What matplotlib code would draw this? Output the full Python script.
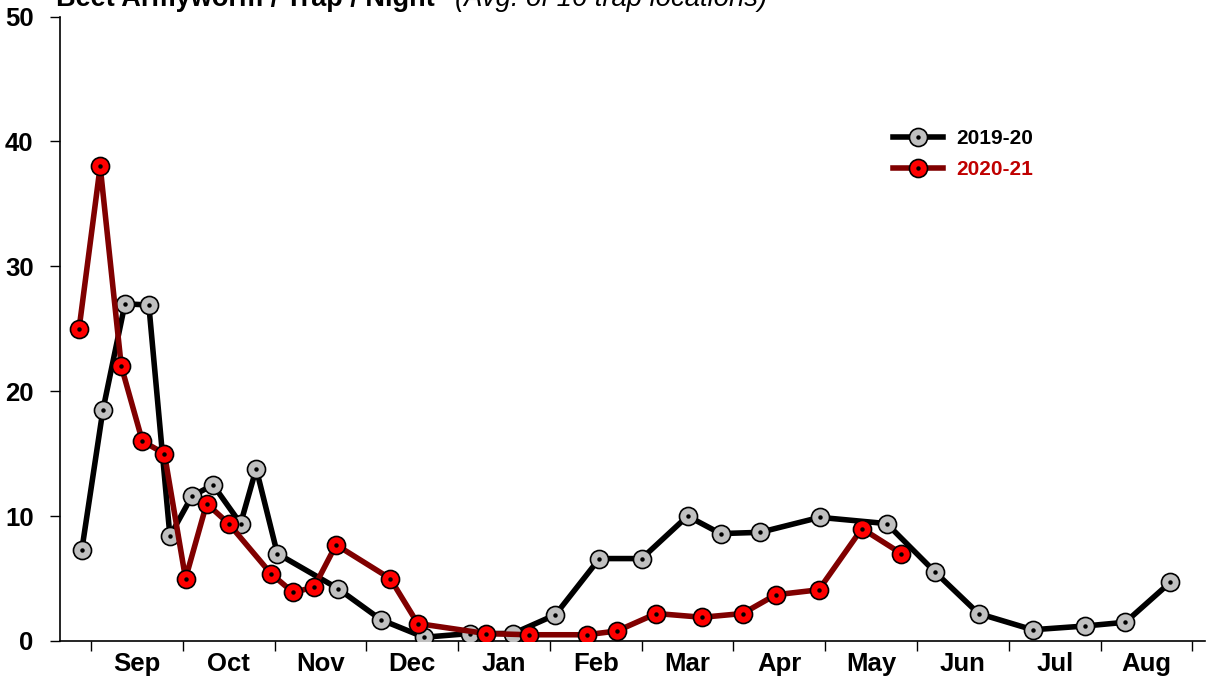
import matplotlib
matplotlib.use("Agg")
import matplotlib.pyplot as plt
from matplotlib.legend_handler import HandlerTuple
import numpy as np

plt.rcParams['font.family'] = ['Liberation Sans', 'DejaVu Sans']

# month labels (position 0 = start of Sep, 1 month per unit)
months = ['Sep', 'Oct', 'Nov', 'Dec', 'Jan', 'Feb', 'Mar', 'Apr', 'May', 'Jun', 'Jul', 'Aug']

# 2019-20 season: trap date (months since Sep 1) and avg moths / trap / night
pos_1920 = [-0.10, 0.13, 0.37, 0.63, 0.86, 1.10, 1.33, 1.63, 1.80, 2.03, 2.69, 3.16, 3.63,
            4.13, 4.60, 5.06, 5.54, 6.00, 6.50, 6.86, 7.29, 7.94, 8.67, 9.20, 9.67, 10.26,
            10.83, 11.27, 11.76]
val_1920 = [7.3, 18.5, 27.0, 26.9, 8.4, 11.6, 12.5, 9.4, 13.8, 7.0, 4.2, 1.7, 0.3,
            0.6, 0.6, 2.1, 6.6, 6.6, 10.0, 8.6, 8.7, 9.9, 9.4, 5.5, 2.2, 0.9,
            1.2, 1.5, 4.7]

# 2020-21 season
pos_2021 = [-0.13, 0.10, 0.33, 0.56, 0.80, 1.03, 1.26, 1.50, 1.96, 2.20, 2.43, 2.67, 3.26,
            3.56, 4.30, 4.77, 5.40, 5.73, 6.16, 6.66, 7.10, 7.46, 7.93, 8.40, 8.83]
val_2021 = [25.0, 38.0, 22.0, 16.0, 15.0, 5.0, 11.0, 9.4, 5.4, 3.9, 4.3, 7.7, 5.0,
            1.4, 0.6, 0.5, 0.5, 0.8, 2.2, 1.9, 2.2, 3.7, 4.1, 9.0, 7.0]

fig = plt.figure(figsize=(12.06, 6.77), dpi=100)
ax = fig.add_axes([60 / 1206, 1 - 641 / 677, 1145 / 1206, (641 - 16.5) / 677])

# black season line with gray markers
l1, = ax.plot(pos_1920, val_1920, color='black', lw=4, marker='o', ms=13,
              mfc='#C0C0C0', mec='black', mew=1.2, zorder=3)
d1, = ax.plot(pos_1920, val_1920, ls='none', marker='o', ms=2.2, color='black', zorder=4)

# dark red season line with red markers
l2, = ax.plot(pos_2021, val_2021, color='#800000', lw=4, marker='o', ms=13,
              mfc='#FF0000', mec='black', mew=1.2, zorder=5)
d2, = ax.plot(pos_2021, val_2021, ls='none', marker='o', ms=2.2, color='black', zorder=6)

ax.set_xlim((60 - 91) / 91.78, (1205 - 91) / 91.78)
ax.set_ylim(0, 50)

ax.set_xticks(np.arange(0, 13))
ax.set_xticklabels([])
ax.set_xticks(np.arange(12) + 0.5, minor=True)
ax.set_xticklabels(months, minor=True, fontsize=18.5, fontweight='bold')
ax.tick_params(axis='x', which='major', direction='out', length=7, width=1)
ax.tick_params(axis='x', which='minor', length=0, pad=8)

ax.set_yticks(np.arange(0, 51, 10))
ax.set_yticklabels([str(v) for v in range(0, 51, 10)], fontsize=18.5, fontweight='bold')
ax.tick_params(axis='y', direction='out', length=7, width=1, pad=12)

for s in ['top', 'right']:
    ax.spines[s].set_visible(False)
for s in ['left', 'bottom']:
    ax.spines[s].set_linewidth(1.2)

leg = ax.legend([(l1, d1), (l2, d2)], ['2019-20', '2020-21'],
                handler_map={tuple: HandlerTuple(ndivide=1)},
                loc='center left', bbox_to_anchor=(893 / 1206, 1 - 154 / 677),
                bbox_transform=fig.transFigure, frameon=False,
                prop={'weight': 'bold', 'size': 15}, handlelength=2.4,
                handletextpad=0.65, labelspacing=0.58, borderpad=0, borderaxespad=0)
leg.get_texts()[1].set_color('#C00000')

fig.text(56 / 1206, 1 - 6 / 677, 'Beet Armyworm / Trap / Night', fontsize=19.5,
         fontweight='bold', va='baseline', ha='left')
fig.text(455 / 1206, 1 - 6 / 677, '(Avg. of 16 trap locations)', fontsize=19.7,
         fontstyle='italic', va='baseline', ha='left')

fig.savefig('out.png', dpi=100)
